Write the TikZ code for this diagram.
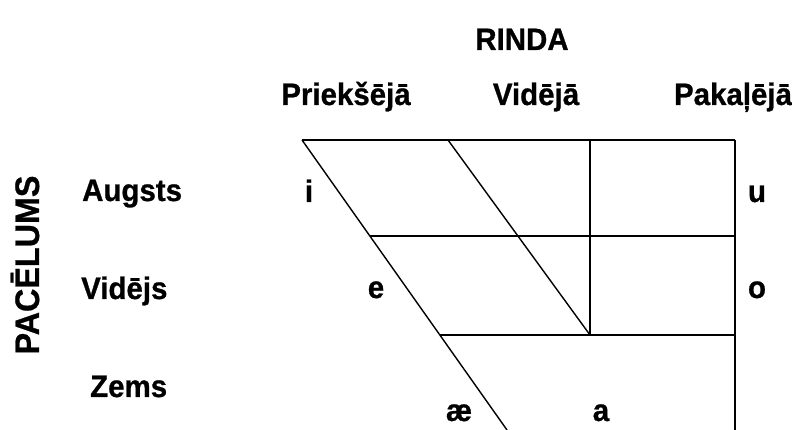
\documentclass[tikz,border=0pt]{standalone}
\usepackage{fontspec}
\setmainfont{Liberation Sans}
\newfontfamily\lblfont[FakeStretch=0.95,FakeBold=0.8]{Liberation Sans Bold}
\begin{document}
\begin{tikzpicture}[x=1pt,y=1pt,
  lbl/.style={font=\lblfont\fontsize{31}{32}\selectfont, inner sep=0pt},
  biglbl/.style={font=\lblfont\fontsize{34}{35}\selectfont, inner sep=0pt},
  grid/.style={line width=1.8pt, line cap=butt},
  slant/.style={line width=1.4pt}]
\useasboundingbox (0,0) rectangle (792,430);
% grid coordinates
\coordinate (tl) at (302,290);
\coordinate (tm) at (448,290);
\coordinate (tv) at (590,290);
\coordinate (tr) at (735,290);
\coordinate (ml) at (370,194);
\coordinate (mv) at (590,194);
\coordinate (mr) at (735,194);
\coordinate (bl) at (440,95);
\coordinate (bv) at (590,95);
\coordinate (br) at (735,95);
\coordinate (el) at (507,0);
\coordinate (er) at (735,0);
% lines
\draw[grid] (tl) -- (tr);
\draw[grid] (ml) -- (mr);
\draw[grid] (bl) -- (br);
\draw[grid] (tr) -- (er);
\draw[grid] (tv) -- (bv);
\draw[slant] (tl) -- (el);
\draw[slant] (tm) -- (bv);
% headers
\node[lbl, anchor=base] (rinda) at (522,380) {RINDA};
\node[lbl, anchor=base] (pr) at (346,325) {Priekšējā};
\node[lbl, anchor=base] (vi) at (536,325) {Vidējā};
\node[lbl, anchor=base] (pa) at (733,325) {Pakaļējā};
% row labels
\node[lbl, anchor=base west] (au) at (82,229) {Augsts};
\node[lbl, anchor=base west] (vj) at (81,131) {Vidējs};
\node[lbl, anchor=base west] (ze) at (90,33) {Zems};
\node[biglbl, rotate=90] (pac) at (25,165) {PACĒLUMS};
% vowels
\node[lbl, anchor=base] (vi1) at (309,228) {i};
\node[lbl, anchor=base] (vu) at (757,228) {u};
\node[lbl, anchor=base] (ve) at (376,132) {e};
\node[lbl, anchor=base] (vo) at (757,132) {o};
\node[lbl, anchor=base] (vae) at (459,9) {æ};
\node[lbl, anchor=base] (va) at (601,9) {a};
\end{tikzpicture}
\end{document}
